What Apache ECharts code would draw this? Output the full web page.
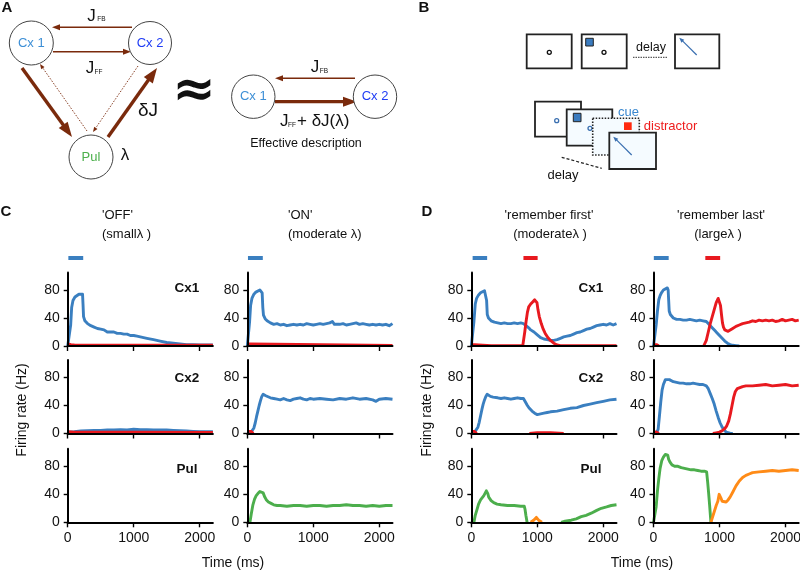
<!DOCTYPE html>
<html><head><meta charset="utf-8">
<script src="https://cdn.jsdelivr.net/npm/echarts@6/dist/echarts.min.js"></script>
<style>html,body{margin:0;padding:0;background:#fff}#c{width:800px;height:571px}</style>
</head><body><div id="c"></div>
<script>
// ---------------- DATA (time ms, firing rate Hz) ----------------
const xTicks = [0, 1000, 2000];
const yTicks = [0, 40, 80];
const panelTitles = [["'OFF'", "(small\u03bb )"], ["'ON'", "(moderate \u03bb)"], ["'remember first'", "(moderate\u03bb )"], ["'remember last'", "(large\u03bb )"]];
const rowNames = ["Cx1", "Cx2", "Pul"];

// stimulus bars [start, end] ms
const cueC = [[10, 0], [235, 0]];
const cueD1 = [[20, 0], [240, 0]];
const distD1 = [[790, 0], [1005, 0]];
const cueD2 = [[5, 0], [230, 0]];
const distD2 = [[785, 0], [1010, 0]];

// C 'OFF'
const cOff_cx1_blue = [[0,0],[30,0],[45,30],[60,55],[80,65],[110,70],[140,72],[170,74],[200,73],[225,74],[232,60],[240,42],[260,36],[300,32],[350,29],[400,27],[450,25],[500,24],[550,23],[600,20],[650,20],[700,20],[750,18],[800,18],[850,17],[900,17],[950,15],[1000,15],[1050,14],[1100,13],[1150,12],[1200,11],[1300,9],[1400,7],[1500,5],[1600,4],[1700,3],[1800,2],[1900,2],[2000,1.5],[2100,1.5],[2200,1.5]];
const cOff_cx1_red = [[0,3],[50,2],[100,1.5],[500,1.2],[1000,1],[1500,1],[2200,1]];
const cOff_cx2_blue = [[0,2],[100,2.5],[200,3.5],[300,4],[400,4.5],[500,4.5],[600,5],[700,5],[800,5.5],[900,5],[1000,6],[1100,5.5],[1200,5.5],[1300,5],[1400,5],[1500,5],[1600,4.5],[1700,4],[1800,3.5],[1900,3],[2000,2.5],[2100,2.5],[2200,2.5]];
const cOff_cx2_red = [[0,2.5],[100,2],[1000,1.8],[2200,1.5]];

// C 'ON'
const cOn_cx1_blue = [[0,0],[20,0],[35,35],[50,58],[70,68],[100,74],[130,77],[160,79],[190,80],[215,79],[225,76],[235,55],[245,44],[270,39],[300,36],[350,33],[400,31],[450,32],[500,30],[550,31],[600,29],[650,30],[700,31],[750,30],[800,31],[850,30],[900,32],[950,31],[1000,30],[1050,31],[1100,32],[1150,31],[1200,32],[1250,33],[1290,35],[1320,31],[1400,31],[1450,32],[1500,30],[1550,31],[1600,32],[1650,33],[1700,31],[1750,32],[1800,31],[1850,30],[1900,31],[1950,30],[2000,31],[2050,30],[2100,31],[2150,29],[2200,32]];
const cOn_cx1_red = [[0,3],[40,3],[70,1],[2200,0.8]];
const cOn_cx2_blue = [[0,2],[60,2],[80,3],[100,8],[120,15],[140,24],[160,32],[180,40],[200,47],[220,53],[240,56],[260,57],[280,54],[300,53],[350,51],[400,50],[450,49],[500,48],[550,50],[600,48],[650,47],[700,49],[750,50],[800,51],[850,49],[900,48],[950,50],[1000,49],[1100,50],[1200,49],[1300,48],[1400,50],[1500,49],[1600,51],[1700,49],[1800,50],[1900,48],[1950,46],[2000,49],[2100,50],[2200,49]];
const cOn_cx2_red = [[0,3],[60,3],[90,0],[120,null]];
const cOn_pul_green = [[0,0],[40,0],[60,12],[85,25],[110,33],[135,38],[160,41],[190,44],[215,45],[240,42],[265,36],[290,32],[320,29],[360,27],[400,25],[450,24],[500,24],[600,23],[700,24],[800,24],[900,23],[1000,24],[1100,24],[1200,23],[1300,24],[1400,24],[1500,25],[1600,24],[1700,24],[1800,23],[1900,24],[2000,23],[2100,24],[2200,24]];

// D 'remember first'
const dFirst_cx1_blue = [[0,0],[25,0],[40,35],[60,60],[80,68],[110,73],[140,76],[170,78],[200,79],[225,78],[232,65],[242,45],[260,40],[300,36],[350,34],[400,33],[450,32],[500,33],[550,32],[600,32],[650,33],[700,32],[750,33],[790,32],[830,29],[870,26],[900,23],[950,20],[1000,16],[1050,12],[1100,10],[1150,9],[1200,8],[1250,8],[1300,9],[1350,11],[1400,13],[1450,14],[1500,15],[1550,17],[1600,19],[1650,20],[1700,22],[1750,24],[1800,25],[1850,27],[1900,29],[1950,30],[2000,31],[2050,30],[2100,32],[2150,30],[2200,32]];
const dFirst_cx1_red = [[0,2],[50,2],[80,0.8],[300,0.6],[600,0.6],[780,0.5],[790,2],[810,20],[830,35],[850,48],[870,56],[900,60],[930,63],[960,66],[980,67],[995,62],[1010,52],[1030,42],[1060,32],[1090,24],[1120,18],[1160,12],[1200,8],[1250,4],[1300,1.5],[1350,0.6],[1500,0.5],[2200,0.5]];
const dFirst_cx2_blue = [[0,1],[50,2],[80,4],[100,9],[120,16],[140,25],[160,34],[180,42],[200,48],[220,53],[240,56],[260,55],[290,53],[330,52],[400,51],[450,50],[500,51],[550,50],[600,49],[650,50],[700,51],[750,50],[790,50],[820,45],[850,40],[880,36],[920,32],[960,29],[1000,27],[1050,28],[1100,29],[1150,30],[1200,31],[1300,32],[1400,34],[1500,36],[1600,37],[1700,40],[1800,42],[1900,44],[2000,46],[2100,48],[2200,49]];
const dFirst_cx2_red = [[0,3],[50,3],[80,0],[100,null],[880,0],[1000,1],[1200,1],[1400,0]];
const dFirst_pul_green = [[0,0],[40,0],[60,10],[86,18],[110,26],[140,32],[190,38],[228,45],[238,46],[250,41],[264,36],[300,31],[340,28],[390,26],[450,25],[548,24],[650,24],[750,23],[802,23],[815,18],[827,10],[845,0],[900,null],[1360,0],[1420,1.5],[1513,3],[1590,5],[1665,8],[1740,10],[1817,13],[1900,17],[1970,20],[2050,22],[2120,24],[2200,25]];
const dFirst_pul_orange = [[900,0],[920,1],[945,3],[965,5],[985,7],[1000,6],[1020,3],[1050,1],[1070,0]];

// D 'remember last'
const dLast_cx1_blue = [[0,0],[20,0],[40,30],[60,50],[80,66],[100,72],[120,76],[150,80],[180,82],[210,83],[222,80],[230,65],[238,50],[255,45],[275,43],[300,40],[350,38],[400,38],[450,37],[500,37],[550,38],[600,37],[650,36],[700,37],[750,36],[800,35],[830,32],[860,29],[900,25],[930,22],[960,19],[1000,15],[1040,11],[1080,7],[1120,4],[1160,2],[1200,1],[1250,0.5],[1300,0]];
const dLast_cx1_red = [[0,2],[50,2],[80,0],[100,null],[760,0],[800,8],[830,20],[860,32],[890,42],[920,52],[950,62],[980,68],[1000,66],[1015,58],[1030,45],[1045,33],[1060,27],[1080,23],[1100,22],[1130,21],[1160,23],[1200,25],[1250,28],[1300,30],[1350,32],[1400,33],[1450,34],[1500,36],[1550,35],[1600,37],[1650,36],[1700,37],[1750,36],[1800,37],[1850,35],[1900,36],[1950,38],[2000,36],[2050,37],[2100,38],[2150,36],[2200,37]];
const dLast_cx2_blue = [[0,1.5],[50,2],[70,6],[90,25],[110,45],[130,62],[150,70],[180,77],[210,79],[240,77],[270,75],[300,74],[350,73],[400,72],[450,72],[500,71],[550,71],[600,72],[650,71],[700,70],[750,70],[800,68],[830,64],[860,57],[890,50],[920,42],[950,32],[980,23],[1010,15],[1040,9],[1070,5],[1100,2],[1130,1],[1160,0.5],[1200,0]];
const dLast_cx2_red = [[0,2.5],[50,2],[80,0],[100,null],[900,0],[950,1],[1000,2],[1040,4],[1080,7],[1110,11],[1140,18],[1165,28],[1190,40],[1215,52],[1240,60],[1270,64],[1300,66],[1350,67],[1400,68],[1500,68],[1600,69],[1700,70],[1800,68],[1900,69],[2000,70],[2100,68],[2200,69]];
const dLast_pul_green = [[0,0],[20,0],[40,22],[60,45],[80,62],[100,77],[125,88],[150,93],[180,97],[200,98],[215,96],[230,90],[250,86],[280,82],[320,80],[370,80],[420,78],[470,77],[520,76],[570,75],[620,75],[670,74],[720,73],[770,73],[805,72],[820,58],[835,42],[850,25],[862,10],[870,0]];
const dLast_pul_orange = [[870,0],[890,6],[920,15],[950,24],[975,30],[995,40],[1005,42],[1020,35],[1040,30],[1070,28],[1100,29],[1130,32],[1160,36],[1200,43],[1250,52],[1300,59],[1350,64],[1400,67],[1450,69],[1500,71],[1600,72],[1700,73],[1800,74],[1900,73],[2000,74],[2100,75],[2200,74]];

// ---------------- STYLE / LAYOUT ----------------
const BLUE = '#3a7fc0', RED = '#e8191f', GREEN = '#4cae4c', ORANGE = '#ff8b17', BROWN = '#7a2a0c';
const FONT = '"Liberation Sans", Arial, Helvetica, sans-serif';
const colLeft = [67.7, 247.3, 471.3, 653.5];
const rowTop = [272.5, 360, 448.8];
const GW = 145.2, GH = 73.5;

const curves = [
  [0,0,BLUE,cOff_cx1_blue],[0,0,RED,cOff_cx1_red],[0,1,BLUE,cOff_cx2_blue],[0,1,RED,cOff_cx2_red],
  [1,0,BLUE,cOn_cx1_blue],[1,0,RED,cOn_cx1_red],[1,1,BLUE,cOn_cx2_blue],[1,1,RED,cOn_cx2_red],[1,2,GREEN,cOn_pul_green],
  [2,0,BLUE,dFirst_cx1_blue],[2,0,RED,dFirst_cx1_red],[2,1,BLUE,dFirst_cx2_blue],[2,1,RED,dFirst_cx2_red],[2,2,GREEN,dFirst_pul_green],[2,2,ORANGE,dFirst_pul_orange],
  [3,0,BLUE,dLast_cx1_blue],[3,0,RED,dLast_cx1_red],[3,1,BLUE,dLast_cx2_blue],[3,1,RED,dLast_cx2_red],[3,2,GREEN,dLast_pul_green],[3,2,ORANGE,dLast_pul_orange]
];
const stims = [[0,BLUE,cueC],[1,BLUE,cueC],[2,BLUE,cueD1],[2,RED,distD1],[3,BLUE,cueD2],[3,RED,distD2]];

const grid = [], xAxis = [], yAxis = [], series = [];
for (let p = 0; p < 4; p++) {
  for (let r = 0; r < 3; r++) {
    grid.push({left: colLeft[p], top: rowTop[r], width: GW, height: GH, outerBoundsMode: 'none'});
    const gi = grid.length - 1;
    xAxis.push({type: 'value', gridIndex: gi, min: 0, max: 2200, interval: 1000, z: 5,
      axisLine: {show: true, lineStyle: {color: '#000', width: 2}},
      axisTick: {show: true, length: 5, lineStyle: {color: '#000', width: 1.4}, customValues: xTicks},
      axisLabel: {show: r === 2, customValues: xTicks, margin: 9, color: '#111', fontSize: 14, fontFamily: FONT, formatter: v => String(v)},
      splitLine: {show: false}});
    yAxis.push({type: 'value', gridIndex: gi, min: 0, max: 105, interval: 40, z: 5,
      axisLine: {show: true, lineStyle: {color: '#000', width: 2}},
      axisTick: {show: true, length: 4, lineStyle: {color: '#000', width: 1.4}, customValues: yTicks},
      axisLabel: {show: true, customValues: yTicks, margin: 8, color: '#111', fontSize: 14, fontFamily: FONT, formatter: v => String(v)},
      splitLine: {show: false}});
  }
}
for (let p = 0; p < 4; p++) {
  grid.push({left: colLeft[p], top: 254, width: GW, height: 8, outerBoundsMode: 'none'});
  const gi = grid.length - 1;
  xAxis.push({type: 'value', gridIndex: gi, min: 0, max: 2200, show: false});
  yAxis.push({type: 'value', gridIndex: gi, min: -1, max: 1, show: false});
}
curves.forEach(([p, r, col, data]) => {
  series.push({type: 'line', xAxisIndex: p*3 + r, yAxisIndex: p*3 + r, data: data, symbol: 'none', connectNulls: false,
    lineStyle: {color: col, width: 2.9, join: 'round'}, z: 2, silent: true});
});
stims.forEach(([p, col, data]) => {
  series.push({type: 'line', xAxisIndex: 12 + p, yAxisIndex: 12 + p, data: data, symbol: 'none',
    lineStyle: {color: col, width: 4, cap: 'butt'}, silent: true});
});

// ---------------- GRAPHIC (diagrams & texts) ----------------
const G = [];
function txt(x, y, s, o) {
  o = o || {};
  G.push({type: 'text', x: x, y: y, rotation: o.rot || 0, z: 12, style: {text: s, fill: o.color || '#111',
    font: (o.weight || 'normal') + ' ' + (o.size || 13) + 'px ' + (o.family || FONT),
    align: o.align || 'center', verticalAlign: o.va || 'middle'}});
}
function arrow(x1, y1, x2, y2, w, color, hl, hw, dash, z) {
  const dx = x2 - x1, dy = y2 - y1, L = Math.hypot(dx, dy), ux = dx / L, uy = dy / L;
  const bx = x2 - ux * hl, by = y2 - uy * hl;
  G.push({type: 'line', z: z || 8, shape: {x1: x1, y1: y1, x2: bx + ux * 0.5, y2: by + uy * 0.5},
    style: {stroke: color, lineWidth: w, lineDash: dash || null}});
  G.push({type: 'polygon', z: z || 8, shape: {points: [[x2, y2], [bx - uy * hw / 2, by + ux * hw / 2], [bx + uy * hw / 2, by - ux * hw / 2]]},
    style: {fill: color}});
}
let zc = 20;
function circ(cx, cy, r, fill, stroke, lw, z) {
  G.push({type: 'circle', z: z || 9, shape: {cx: cx, cy: cy, r: r}, style: {fill: fill || '#fff', stroke: stroke || '#444', lineWidth: lw || 1}});
}
function rect(x, y, w, h, fill, stroke, lw, dash, z) {
  G.push({type: 'rect', z: z || 9, shape: {x: x, y: y, width: w, height: h}, style: {fill: fill, stroke: stroke, lineWidth: lw, lineDash: dash || null}});
}

// Panel labels
txt(7, 8, 'A', {weight: 'bold', size: 15});
txt(424, 8, 'B', {weight: 'bold', size: 15});
txt(6, 212, 'C', {weight: 'bold', size: 15});
txt(427, 212, 'D', {weight: 'bold', size: 15});

// Panel A
arrow(132, 27.3, 52, 27.3, 1.5, BROWN, 8, 6);
arrow(53, 51.7, 131, 51.7, 1.5, BROWN, 8, 6);
arrow(22, 68, 72, 137, 3.4, BROWN, 15, 11);
arrow(108, 137, 157, 68, 3.4, BROWN, 15, 11);
arrow(87, 131, 40, 64, 0.9, BROWN, 5, 4, [1.5, 1.5]);
arrow(138, 66, 93, 132, 0.9, BROWN, 5, 4, [1.5, 1.5]);
circ(31.3, 43, 22); circ(150, 43, 21.5); circ(91, 157, 22);
txt(31.3, 43, 'Cx 1', {color: '#3d8fd6', size: 13});
txt(150, 43, 'Cx 2', {color: '#1f3cf5', size: 13});
txt(91, 157, 'Pul', {color: '#4cb04c', size: 13});
txt(91.5, 16, 'J', {size: 17});
txt(101.5, 19.5, 'FB', {size: 6.5});
txt(90, 68, 'J', {size: 17});
txt(98.5, 72, 'FF', {size: 6.5});
txt(148, 111, '\u03b4J', {size: 19});
txt(125, 155, '\u03bb', {size: 17});
txt(194, 92, '\u2248', {size: 52, weight: 'bold', family: '"DejaVu Sans", sans-serif'});
// effective description
arrow(355, 78.3, 275, 78.3, 1.5, BROWN, 8, 6);
arrow(275, 101.7, 357, 101.7, 3.2, BROWN, 14, 10);
circ(253.3, 96.7, 21.7); circ(375, 96.7, 21.7);
txt(253.3, 96.7, 'Cx 1', {color: '#3d8fd6', size: 13});
txt(375, 96.7, 'Cx 2', {color: '#1f3cf5', size: 13});
txt(315, 67.5, 'J', {size: 17});
txt(324, 71, 'FB', {size: 6.5});
txt(280, 121, 'J', {size: 17, align: 'left'});
txt(292, 125, 'FF', {size: 6.5});
txt(297, 121, '+ \u03b4J(\u03bb)', {size: 17, align: 'left'});
txt(306, 143.5, 'Effective description', {size: 12.5});

// Panel B top row
rect(526.7, 34.3, 45, 34, '#fff', '#222', 1.8);
rect(581.7, 34.3, 45, 34, '#fff', '#222', 1.8);
rect(675, 34.3, 44.3, 34, '#fff', '#222', 1.8);
circ(549.3, 52.3, 2, '#fff', '#111', 1.3, 10);
circ(604, 52.3, 2, '#fff', '#111', 1.3, 10);
rect(585.7, 38.3, 7.6, 7.7, '#3a7bbf', '#222', 1, null, 10);
txt(651, 47.5, 'delay', {size: 12.5});
G.push({type: 'line', z: 9, shape: {x1: 633, y1: 57.3, x2: 667.7, y2: 57.3}, style: {stroke: '#333', lineWidth: 1, lineDash: [1.5, 1]}});
arrow(696.7, 55, 679.3, 37.7, 1.2, '#3a6fb0', 5, 4, null, 10);
// Panel B bottom row
rect(535, 101.7, 46, 35, '#fff', '#222', 1.8, null, 9);
circ(556.7, 120.7, 2, '#fff', '#3a6fb0', 1.3, 9);
rect(566.7, 109.3, 45.6, 36.4, '#f5fbff', '#222', 1.8, null, 10);
rect(573.3, 113.3, 7.7, 8.4, '#3a7bbf', '#222', 1, null, 10);
circ(590, 128.3, 2, '#f5fbff', '#3a6fb0', 1.3, 10);
rect(592.7, 118.3, 46.6, 36.7, '#f5fbff', '#222', 1.6, [1.5, 1.5], 11);
rect(624, 122.3, 7.7, 7.7, '#ff2a10', null, 0, null, 11);
rect(609.3, 132.7, 46.7, 36.3, '#f5fbff', '#222', 1.8, null, 12);
arrow(631.7, 155, 613.3, 136.7, 1.2, '#3a6fb0', 5, 4, null, 13);
txt(628.5, 112, 'cue', {color: '#3a88d0', size: 13});
txt(670.5, 126, 'distractor', {color: '#ee1c1c', size: 13});
G.push({type: 'line', z: 9, shape: {x1: 561.7, y1: 157.3, x2: 601.7, y2: 168.3}, style: {stroke: '#222', lineWidth: 1.2, lineDash: [3, 2]}});
txt(563, 175, 'delay', {size: 13});

// Titles of C and D columns
txt(102, 215, panelTitles[0][0], {align: 'left'});
txt(102, 234, panelTitles[0][1], {align: 'left'});
txt(288, 215, panelTitles[1][0], {align: 'left'});
txt(288, 234, panelTitles[1][1], {align: 'left'});
txt(549, 215, panelTitles[2][0]);
txt(550, 234, panelTitles[2][1]);
txt(721, 215, panelTitles[3][0]);
txt(718, 234, panelTitles[3][1]);
// Row names
const rowY = [288, 378, 469];
rowNames.forEach((n, i) => { txt(187, rowY[i], n, {weight: 'bold', size: 13.5}); txt(591, rowY[i], n, {weight: 'bold', size: 13.5}); });
// Axis titles
txt(22, 410, 'Firing rate (Hz)', {size: 14, rot: Math.PI / 2});
txt(427, 410, 'Firing rate (Hz)', {size: 14, rot: Math.PI / 2});
txt(233, 563, 'Time (ms)', {size: 14});
txt(642, 563, 'Time (ms)', {size: 14});

const chart = echarts.init(document.getElementById('c'), null, {renderer: 'canvas'});
chart.setOption({animation: false, backgroundColor: '#fff', grid: grid, xAxis: xAxis, yAxis: yAxis, series: series, graphic: {elements: G}});
</script></body></html>
